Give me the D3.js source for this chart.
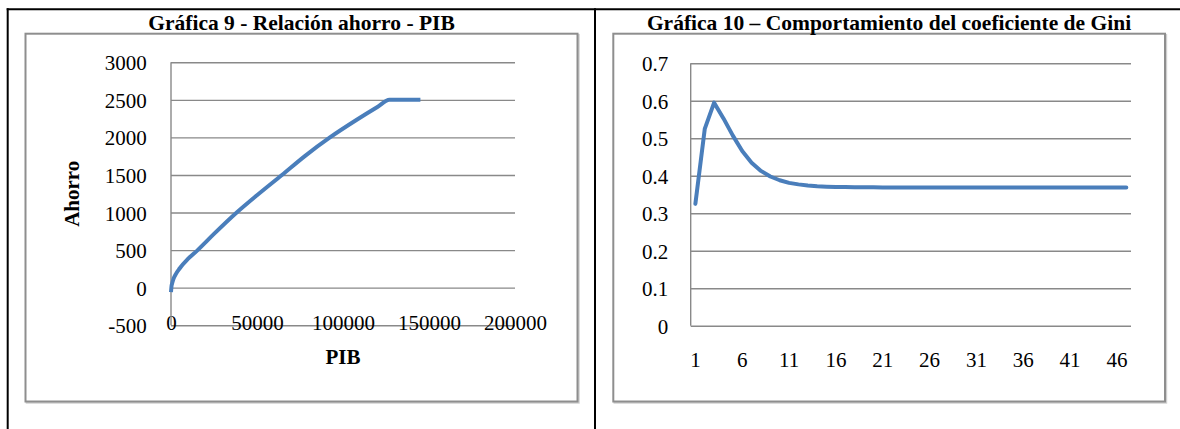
<!DOCTYPE html>
<html>
<head>
<meta charset="utf-8">
<script src="https://d3js.org/d3.v7.min.js"></script>
<style>
    body { margin: 0; background: #fff; }
    text { font-family: "Liberation Serif", "Times New Roman", serif; fill: #000; }
</style>
</head>
<body>
<svg id="chart" width="1180" height="429"></svg>
<script>
// Gráfica 9 - ahorro vs PIB
const pibValues = [0, 300, 700, 1500, 2800, 5000, 10000, 15500, 25000, 38200, 50000, 64500, 78000, 92400, 108000, 120000, 127000, 145000];
const ahorroValues = [-60, 20, 60, 120, 180, 255, 385, 500, 715, 1000, 1230, 1500, 1755, 2000, 2235, 2405, 2500, 2500];
const pibTicks = [0, 50000, 100000, 150000, 200000];
const ahorroTicks = [-500, 0, 500, 1000, 1500, 2000, 2500, 3000];

// Gráfica 10 - coeficiente de Gini, periodos 1..47
const periodos = [1, 2, 3, 4, 5, 6, 7, 8, 9, 10, 11, 12, 13, 14, 15, 16, 17, 18, 19, 20, 21, 22, 23, 24,
    25, 26, 27, 28, 29, 30, 31, 32, 33, 34, 35, 36, 37, 38, 39, 40, 41, 42, 43, 44, 45, 46, 47];
const giniValues = [0.325, 0.525, 0.595, 0.553, 0.507, 0.466, 0.435, 0.413, 0.398, 0.388, 0.381, 0.377,
    0.374, 0.372, 0.371, 0.370, 0.370, 0.3695, 0.3695, 0.3695, 0.369, 0.369, 0.369, 0.369,
    0.369, 0.369, 0.369, 0.369, 0.369, 0.369, 0.369, 0.369, 0.369, 0.369, 0.369, 0.369,
    0.369, 0.369, 0.369, 0.369, 0.369, 0.369, 0.369, 0.369, 0.369, 0.369, 0.369];
const periodoLabels = [1, 6, 11, 16, 21, 26, 31, 36, 41, 46];
const giniTicks = [0, 0.1, 0.2, 0.3, 0.4, 0.5, 0.6, 0.7];

const lineColor = "#4a7ebb";
const gridColor = "#898989";
const fontSize = 21;

const svg = d3.select("#chart");

// table borders
svg.append("line").attr("x1", 6.7).attr("x2", 1180).attr("y1", 9.3).attr("y2", 9.3)
    .attr("stroke", "#000").attr("stroke-width", 2);
svg.append("line").attr("x1", 7.7).attr("x2", 7.7).attr("y1", 8.3).attr("y2", 429)
    .attr("stroke", "#000").attr("stroke-width", 2);
svg.append("line").attr("x1", 595).attr("x2", 595).attr("y1", 8.3).attr("y2", 429)
    .attr("stroke", "#000").attr("stroke-width", 2);

function frame(x0, x1, y0, y1) {
    svg.append("rect")
        .attr("x", x0 + 1.2).attr("y", y0 + 1.2)
        .attr("width", x1 - x0).attr("height", y1 - y0)
        .attr("fill", "none").attr("stroke", "#cfcfcf").attr("stroke-width", 2);
    svg.append("rect")
        .attr("x", x0).attr("y", y0)
        .attr("width", x1 - x0).attr("height", y1 - y0)
        .attr("fill", "#fff").attr("stroke", "#8e8e8e").attr("stroke-width", 2);
}

function title(txt, cx) {
    svg.append("text")
        .attr("x", cx).attr("y", 30)
        .attr("text-anchor", "middle")
        .attr("font-weight", "bold")
        .attr("font-size", "21.5px")
        .text(txt);
}

// ---------- left chart ----------
frame(25.5, 577.5, 33.7, 401.5);
title("Gráfica 9 - Relación ahorro - PIB", 301.5);

const xPib = d3.scaleLinear().domain([0, 200000]).range([171, 515]);
const yAhorro = d3.scaleLinear().domain([-500, 3000]).range([325.2, 62.3]);

let gy1 = svg.append("g")
    .attr("transform", "translate(171,0)")
    .call(d3.axisLeft(yAhorro).tickValues(ahorroTicks).tickSize(-344).tickPadding(24.3).tickFormat(d => String(d)));
gy1.select(".domain").remove();
gy1.selectAll(".tick line").attr("stroke", gridColor).attr("stroke-width", 1.4);
gy1.selectAll(".tick text").attr("font-size", fontSize + "px").attr("font-family", null).attr("dy", "0.36em");

let gx1 = svg.append("g")
    .attr("transform", "translate(0," + yAhorro(-500) + ")")
    .call(d3.axisBottom(xPib).tickValues(pibTicks).tickSize(0).tickFormat(d => String(d)));
gx1.select(".domain").remove();
gx1.selectAll(".tick text").attr("font-size", fontSize + "px").attr("font-family", null)
    .attr("y", 0).attr("dy", "0.23em");

svg.append("line").attr("x1", 171).attr("x2", 171)
    .attr("y1", yAhorro(3000)).attr("y2", yAhorro(-500))
    .attr("stroke", gridColor).attr("stroke-width", 1.4);

const ahorroLine = d3.line()
    .x((d, i) => xPib(pibValues[i]))
    .y(d => yAhorro(d))
    .curve(d3.curveMonotoneX);

svg.append("path")
    .datum(ahorroValues)
    .attr("d", ahorroLine)
    .attr("fill", "none")
    .attr("stroke", lineColor)
    .attr("stroke-width", 4)
    .attr("stroke-linejoin", "round");

svg.append("text")
    .attr("transform", "translate(79," + ((yAhorro(3000) + yAhorro(-500)) / 2) + ") rotate(-90)")
    .attr("text-anchor", "middle")
    .attr("font-weight", "bold")
    .attr("font-size", fontSize + "px")
    .text("Ahorro");

svg.append("text")
    .attr("x", (xPib(0) + xPib(200000)) / 2).attr("y", 364)
    .attr("text-anchor", "middle")
    .attr("font-weight", "bold")
    .attr("font-size", fontSize + "px")
    .text("PIB");

// ---------- right chart ----------
frame(613.3, 1165, 33.7, 401.5);
title("Gráfica 10 – Comportamiento del coeficiente de Gini", 889);

const xPer = d3.scaleBand().domain(periodos).range([690.7, 1131]);
const yGini = d3.scaleLinear().domain([0, 0.7]).range([325.7, 63.3]);

let gy2 = svg.append("g")
    .attr("transform", "translate(690.7,0)")
    .call(d3.axisLeft(yGini).tickValues(giniTicks).tickSize(-(1131 - 690.7)).tickPadding(22.4)
        .tickFormat(d => d === 0 ? "0" : d3.format(".1f")(d)));
gy2.select(".domain").remove();
gy2.selectAll(".tick line").attr("stroke", gridColor).attr("stroke-width", 1.4);
gy2.selectAll(".tick text").attr("font-size", fontSize + "px").attr("font-family", null).attr("dy", "0.36em");

let gx2 = svg.append("g")
    .attr("transform", "translate(0," + yGini(0) + ")")
    .call(d3.axisBottom(xPer).tickValues(periodoLabels).tickSize(0));
gx2.select(".domain").remove();
gx2.selectAll(".tick text").attr("font-size", fontSize + "px").attr("font-family", null)
    .attr("y", 0).attr("dy", "1.99em");

svg.append("line").attr("x1", 690.7).attr("x2", 690.7)
    .attr("y1", yGini(0.7)).attr("y2", yGini(0))
    .attr("stroke", gridColor).attr("stroke-width", 1.4);

const giniLine = d3.line()
    .x((d, i) => xPer(periodos[i]) + xPer.bandwidth() / 2)
    .y(d => yGini(d));

svg.append("path")
    .datum(giniValues)
    .attr("d", giniLine)
    .attr("fill", "none")
    .attr("stroke", lineColor)
    .attr("stroke-width", 4)
    .attr("stroke-linejoin", "round")
    .attr("stroke-linecap", "round");
</script>
</body>
</html>
